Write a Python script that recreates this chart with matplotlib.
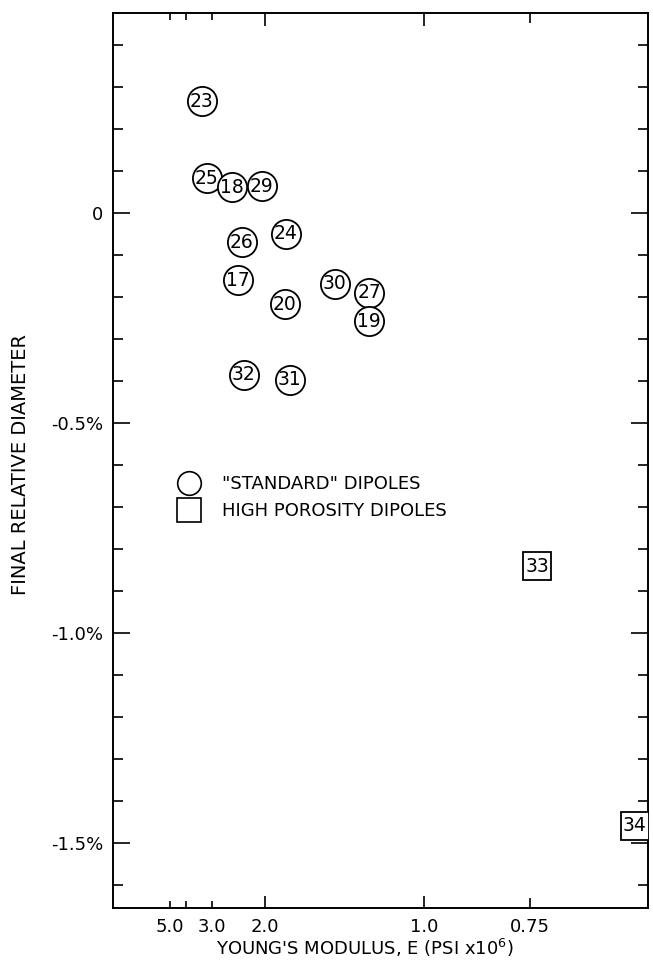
import numpy as np
import matplotlib.pyplot as plt
from matplotlib.lines import Line2D

plt.rcParams['font.family'] = 'DejaVu Sans'
plt.rcParams['axes.unicode_minus'] = False

# "standard" dipoles: sample no., Young's modulus (psi x 10^6), final relative diameter (%)
std_ids = ['23', '25', '18', '29', '24', '26', '17', '30', '27', '19', '20', '32', '31']
std_E = [3.32, 3.16, 2.53, 2.04, 1.77, 2.34, 2.41, 1.39, 1.207, 1.209, 1.78, 2.31, 1.73]
std_d = [0.266, 0.083, 0.061, 0.063, -0.050, -0.070, -0.160, -0.169, -0.190,
         -0.258, -0.217, -0.385, -0.397]

# high porosity dipoles
hp_ids = ['33', '34']
hp_E = [0.737, 0.601]
hp_d = [-0.841, -1.459]

x_ticks = [5.0, 3.0, 2.0, 1.0, 0.75]
x_labels = ['5.0', '3.0', '2.0', '1.0', '0.75']
y_ticks = [0, -0.5, -1.0, -1.5]
y_labels = ['0', '-0.5%', '-1.0%', '-1.5%']


def to_compliance(e):
    return 1.0 / np.asarray(e, dtype=float)


fig = plt.figure(figsize=(6.53, 9.6), dpi=100)
ax = fig.add_axes([0.173, 0.0542, 0.819, 0.9323])
# x axis is linear in 1/E (compliance), labelled in E
ax.set_xscale('function', functions=(to_compliance, to_compliance))

ax.plot(std_E, std_d, 'o', ms=21, mfc='white', mec='black', mew=1.3, ls='none', zorder=3)
for e, d, s in zip(std_E, std_d, std_ids):
    ax.text(e, d, s, ha='center', va='center', fontsize=13.5, zorder=4)

ax.plot(hp_E, hp_d, 's', ms=20, mfc='white', mec='black', mew=1.3, ls='none', zorder=3)
for e, d, s in zip(hp_E, hp_d, hp_ids):
    ax.text(e, d, s, ha='center', va='center', fontsize=13.5, zorder=4)

ax.set_xlim(0.5865, 46.5)
ax.set_ylim(-1.655, 0.476)

ax.set_xticks(x_ticks, x_labels)
ax.set_xticks([4.0], minor=True)
ax.set_yticks(y_ticks, y_labels)
ax.set_yticks(np.round(np.arange(-1.6, 0.45, 0.1), 1), minor=True)

ax.tick_params(which='both', direction='in', top=True, right=True, width=1.2)
ax.tick_params(axis='y', which='major', length=12, pad=7, labelsize=13)
ax.tick_params(axis='y', which='minor', length=7)
ax.tick_params(axis='x', which='major', pad=7, labelsize=13)
ax.tick_params(axis='x', which='minor', length=5)
for tick, ln in zip(ax.xaxis.get_major_ticks(), [5, 5, 9, 9, 7]):
    tick.tick1line.set_markersize(ln)
    tick.tick2line.set_markersize(ln)

for sp in ax.spines.values():
    sp.set_linewidth(1.4)

ax.set_xlabel("YOUNG'S MODULUS, E (PSI x10$^{6}$)", fontsize=13)
ax.xaxis.set_label_coords(0.471, -0.032)
ax.set_ylabel("FINAL RELATIVE DIAMETER", fontsize=14)
ax.yaxis.set_label_coords(-0.155, 0.495)

handles = [
    Line2D([], [], marker='o', ls='none', ms=17, mfc='white', mec='black', mew=1.2),
    Line2D([], [], marker='s', ls='none', ms=17, mfc='white', mec='black', mew=1.2),
]
ax.legend(handles, ['"STANDARD" DIPOLES', 'HIGH POROSITY DIPOLES'],
          loc='upper left', bbox_to_anchor=(0.1219, 0.4837), frameon=False,
          fontsize=13, borderpad=0, handlelength=1.2, handletextpad=1.23,
          labelspacing=0.49, borderaxespad=0)

fig.savefig('out.png', dpi=100)
